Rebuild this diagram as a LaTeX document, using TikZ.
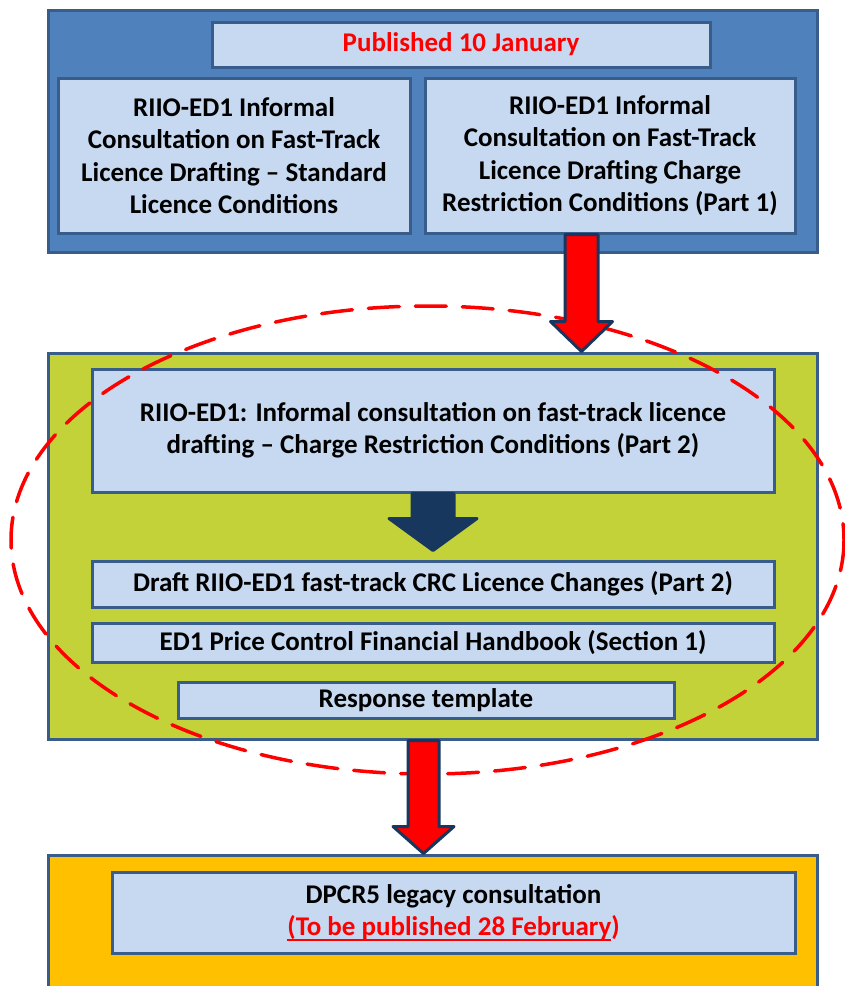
\documentclass[tikz,border=0pt]{standalone}
\usepackage{fontspec}
\setmainfont{Carlito}
\usetikzlibrary{calc}

\definecolor{stageblue}{HTML}{4F81BD}
\definecolor{edgeblue}{HTML}{385D8A}
\definecolor{paleblue}{HTML}{C6D9F1}
\definecolor{stagelime}{HTML}{C4D23A}
\definecolor{stageamber}{HTML}{FFC000}
\definecolor{navy}{HTML}{17375E}

% thick underline in the current colour
\newcommand{\underrule}[1]{\leavevmode\setbox0\hbox{#1}\rlap{\rule[-5pt]{\wd0}{1.6pt}}\box0}

\tikzset{
	stage/.style={draw=edgeblue, line width=3pt, minimum width=769pt, inner sep=0pt},
	doc/.style={draw=edgeblue, fill=paleblue, line width=3pt, inner sep=0pt,
		align=center, font=\fontsize{27}{32.5}\selectfont\bfseries},
	blockarrow/.style={draw=navy, line width=3pt, line join=round}
}

\begin{document}
\begin{tikzpicture}[x=1pt, y=-1pt]
		\useasboundingbox (0,0) rectangle (845,986);

		% the three stages
		\node[stage, fill=stageblue, minimum height=242pt] (stage1) at (432.5,131) {};
		\node[stage, fill=stagelime, minimum height=386pt] (stage2) at (432.5,546) {};
		\node[stage, fill=stageamber, minimum height=150pt] (stage3) at (432.5,930) {};

		% documents
		\node[doc, minimum width=498pt, minimum height=45pt, text=red] (pub) at (461,44.5) {Published 10 January};
		\node[doc, minimum width=352pt, minimum height=155pt] (slc) at (234,155.5)
			{RIIO-ED1 Informal\\Consultation on Fast-Track\\Licence Drafting -- Standard\\Licence Conditions};
		\node[doc, minimum width=370pt, minimum height=155pt] (crc1) at (610,155.5)
			{RIIO-ED1 Informal\\Consultation on Fast-Track\\Licence Drafting Charge\\Restriction Conditions (Part 1)};
		\node[doc, minimum width=682pt, minimum height=123pt] (crc2) at (433,430.5)
			{RIIO-ED1: Informal consultation on fast-track licence\\drafting -- Charge Restriction Conditions (Part 2)};
		\node[doc, minimum width=682pt, minimum height=46pt] (draft) at (433,584)
			{Draft RIIO-ED1 fast-track CRC Licence Changes (Part 2)};
		\node[doc, minimum width=682pt, minimum height=39pt] (handbook) at (433,642.5)
			{ED1 Price Control Financial Handbook (Section 1)};
		\node[doc, minimum width=496pt, minimum height=36pt] (template) at (426,700) {Response template};
		\node[doc, minimum width=683pt, minimum height=81pt] (legacy) at (453.5,912.5)
			{DPCR5 legacy consultation\\{\color{red}\underrule{(To be published 28 February})}};

		% focus of the consultation
		\draw[red, line width=3.5pt, dash pattern=on 31pt off 16pt, line cap=round]
			(427.5,540) ellipse [x radius=416.5, y radius=234];

		% block arrows: from/to/x/shaft/head/head length/gap/colour
		\foreach \s/\e/\x/\w/\hw/\hl/\g/\c in
		{
			crc1/stage2/581.5/16.5/31/30/0/red,
			crc2/draft/433/21/44/32/9/navy,
			stage2/stage3/423.5/15.5/30.5/27/0/red}
		{
			\path (\x,0 |- \s.south) coordinate (a) (\x,0 |- \e.north) coordinate (b);
			\draw[blockarrow, fill=\c]
			($(a)+(-\w,0)$) -- ($(b)+(-\w,-\g-\hl)$) -- ($(b)+(-\hw,-\g-\hl)$)
			-- ($(b)+(0,-\g)$) -- ($(b)+(\hw,-\g-\hl)$) -- ($(b)+(\w,-\g-\hl)$)
			-- ($(a)+(\w,0)$) -- cycle;
		}
\end{tikzpicture}
\end{document}
